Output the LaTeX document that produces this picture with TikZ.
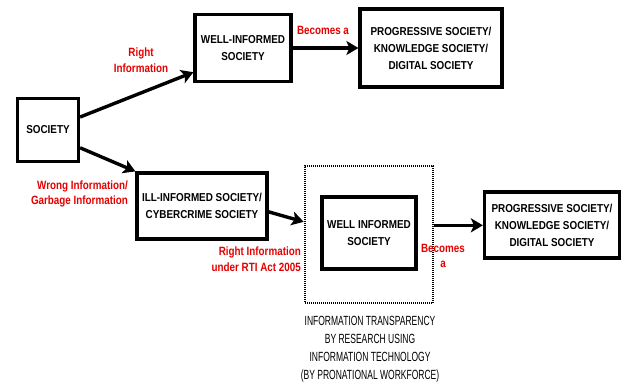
\documentclass[tikz,border=0pt]{standalone}
\usepackage{fontspec}
\usetikzlibrary{arrows.meta}
\newfontfamily\condfont[FakeStretch=0.86]{Liberation Sans}
\newfontfamily\lblfont[FakeStretch=0.82]{Liberation Sans}
\newfontfamily\narrowfont[FakeStretch=0.64]{Liberation Sans}
\begin{document}
\begin{tikzpicture}[x=1pt,y=-1pt]
		\tikzset{box/.style = {draw, line width=3.2pt, align=center, inner sep=0pt,
				font=\condfont\bfseries\fontsize{11.5}{17}\selectfont}}
		\tikzset{dotbox/.style = {draw, line width=2.6pt, dash pattern=on 1pt off 1pt,
				minimum width=128pt, minimum height=137pt}}
		\tikzset{lbl/.style = {text=red!90!black, align=center, inner sep=0pt,
				font=\lblfont\bfseries\fontsize{12}{15.5}\selectfont}}
		\tikzset{note/.style = {align=center, inner sep=0pt,
				font=\narrowfont\fontsize{13.3}{18}\selectfont}}
		\tikzset{edge/.style = {line width=3.4pt, -{Stealth[length=12pt,width=14pt,inset=3pt]}}}
		
		\useasboundingbox (0,0) rectangle (622,382);
		
		\node[box, minimum width=61pt, minimum height=63pt]   (society)  at ( 48, 130) {SOCIETY};
		\node[box, minimum width=96pt, minimum height=67pt]   (wellinf)  at (243,  48) {WELL-INFORMED\\SOCIETY};
		\node[box, minimum width=142pt, minimum height=78pt]  (progtop)  at (431,  48) {PROGRESSIVE SOCIETY/\\KNOWLEDGE SOCIETY/\\DIGITAL SOCIETY};
		\node[box, minimum width=130pt, minimum height=66pt]  (illinf)   at (202, 206) {ILL-INFORMED SOCIETY/\\CYBERCRIME SOCIETY};
		\node[dotbox]                                         (research) at (369, 234.5) {};
		\node[box, minimum width=94pt, minimum height=72pt]   (wellinf2) at (369, 233) {WELL INFORMED\\SOCIETY};
		\node[box, minimum width=135pt, minimum height=66pt]  (progbot)  at (552, 225) {PROGRESSIVE SOCIETY/\\KNOWLEDGE SOCIETY/\\DIGITAL SOCIETY};
		
		\node[lbl] (right)    at (141,  60) {Right\\Information};
		\node[lbl] (becomes)  at (323,  30) {Becomes a};
		\node[lbl, align=right, anchor=east] (wrong) at (128, 194) {Wrong Information/\\Garbage Information};
		\node[lbl, align=right, anchor=east] (rti)   at (301, 259) {Right Information\\under RTI Act 2005};
		\node[lbl] (becomes2) at (443, 256) {Becomes\\a};
		
		\node[note] (transp) at (370, 349) {INFORMATION TRANSPARENCY\\BY RESEARCH USING\\INFORMATION TECHNOLOGY\\(BY PRONATIONAL WORKFORCE)};
		
		\draw[edge] (society.22)  to (wellinf.206);
		\draw[edge] (society.-29) to (illinf.north west);
		\draw[edge] (wellinf)     to (progtop);
		\draw[edge] (illinf.-5)   to (research.169);
		\draw[edge] (research.8)  to (research.8 -| progbot.west);
		\end{tikzpicture}
\end{document}
